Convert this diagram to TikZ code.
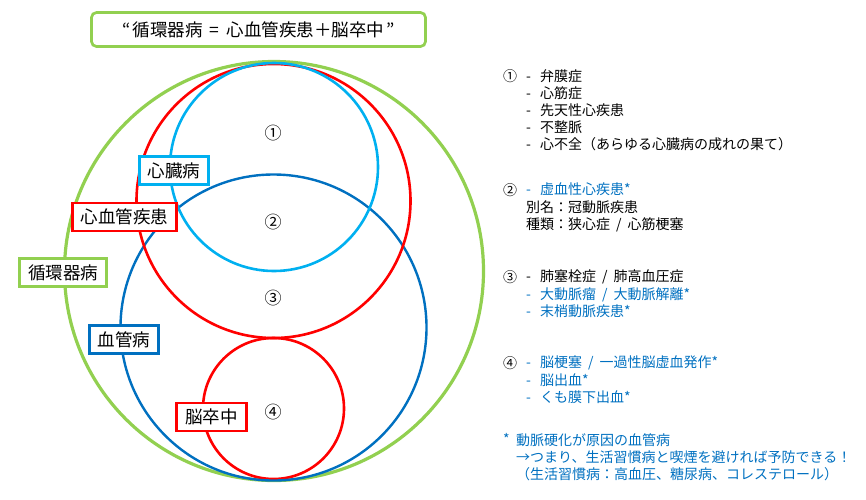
\documentclass[tikz,border=0pt]{standalone}
\usepackage{fontspec}
\setmainfont{Noto Sans CJK JP}
\definecolor{cvgreen}{HTML}{92D050}
\definecolor{cvred}{HTML}{FF0000}
\definecolor{cvsky}{HTML}{00B0F0}
\definecolor{cvblue}{HTML}{0070C0}
\usepackage{tikz}
\newcommand{\dsh}{\makebox[14pt][l]{-}}
\newcommand{\dv}{\hspace{6pt}/\hspace{6pt}}
\newcommand{\bl}[1]{\textcolor{cvblue}{#1}}
\begin{document}
\begin{tikzpicture}[x=1pt,y=-1pt,
  ring/.style={circle,draw,inner sep=0pt,minimum size=#1},
  vtag/.style={draw=#1,line width=2.7pt,fill=white,inner xsep=8.5pt,inner ysep=0pt,minimum height=28pt,font=\fontsize{17.5}{20}\selectfont},
  num/.style={font=\fontsize{17}{20}\selectfont},
  knum/.style={font=\fontsize{14}{17}\selectfont},
  lst/.style={anchor=north west,inner sep=0pt,align=left,font=\fontsize{14}{17.2}\selectfont}]
\useasboundingbox (0,0) rectangle (866,499);
% title
\node[draw=cvgreen,line width=2.7pt,rounded corners=5pt,minimum width=334pt,minimum height=34pt,font=\fontsize{17.5}{20}\selectfont] (title) at (258.5,29.5) {“\hspace{2pt}循環器病\hspace{7pt}=\hspace{7pt}心血管疾患＋脳卒中\hspace{2pt}”};
% circles
\node[ring=419pt,draw=cvgreen,line width=3.2pt] (circ) at (274,271) {};
\node[ring=141pt,draw=cvred,line width=2.6pt] (stroke) at (273.5,408.5) {};
\node[ring=306pt,draw=cvblue,line width=2.4pt] (vasc) at (273.5,327.5) {};
\node[ring=274pt,draw=cvred,line width=2.6pt] (cvd) at (273.5,201) {};
\node[ring=208pt,draw=cvsky,line width=2.6pt] (heart) at (274,167) {};
% areas
\node[num] (n1) at (273,133) {①};
\node[num] (n2) at (273,222) {②};
\node[num] (n3) at (273,298) {③};
\node[num] (n4) at (273,412) {④};
% labels
\node[vtag=cvsky] (heartlbl) at (174,170.5) {心臓病};
\node[vtag=cvred] (cvdlbl) at (124.5,217) {心血管疾患};
\node[vtag=cvgreen] (circlbl) at (63,272.5) {循環器病};
\node[vtag=cvblue] (vasclbl) at (124,339.5) {血管病};
\node[vtag=cvred] (strokelbl) at (211.5,417) {脳卒中};
% list on the right
\node[knum] (k1) at (510,76) {①};
\node[lst] (d1) at (526,69) {\dsh 弁膜症\\ \dsh 心筋症\\ \dsh 先天性心疾患\\ \dsh 不整脈\\ \dsh 心不全（あらゆる心臓病の成れの果て）};
\node[knum] (k2) at (510,190) {②};
\node[lst] (d2) at (526,183) {\bl{\dsh 虚血性心疾患*}\\ 別名：冠動脈疾患\\ 種類：狭心症\dv 心筋梗塞};
\node[knum] (k3) at (510,277) {③};
\node[lst] (d3) at (526,270) {\dsh 肺塞栓症\dv 肺高血圧症\\ \bl{\dsh 大動脈瘤\dv 大動脈解離*}\\ \bl{\dsh 末梢動脈疾患*}};
\node[knum] (k4) at (510,363) {④};
\node[lst,text=cvblue] (d4) at (526,356) {\dsh 脳梗塞\dv 一過性脳虚血発作*\\ \dsh 脳出血*\\ \dsh くも膜下出血*};
% footnote
\node[lst,text=cvblue] (star) at (503,433) {*};
\node[lst,text=cvblue] (foot) at (516,433) {動脈硬化が原因の血管病\\ →つまり、生活習慣病と喫煙を避ければ予防できる！\\ （生活習慣病：高血圧、糖尿病、コレステロール）};
\end{tikzpicture}
\end{document}
